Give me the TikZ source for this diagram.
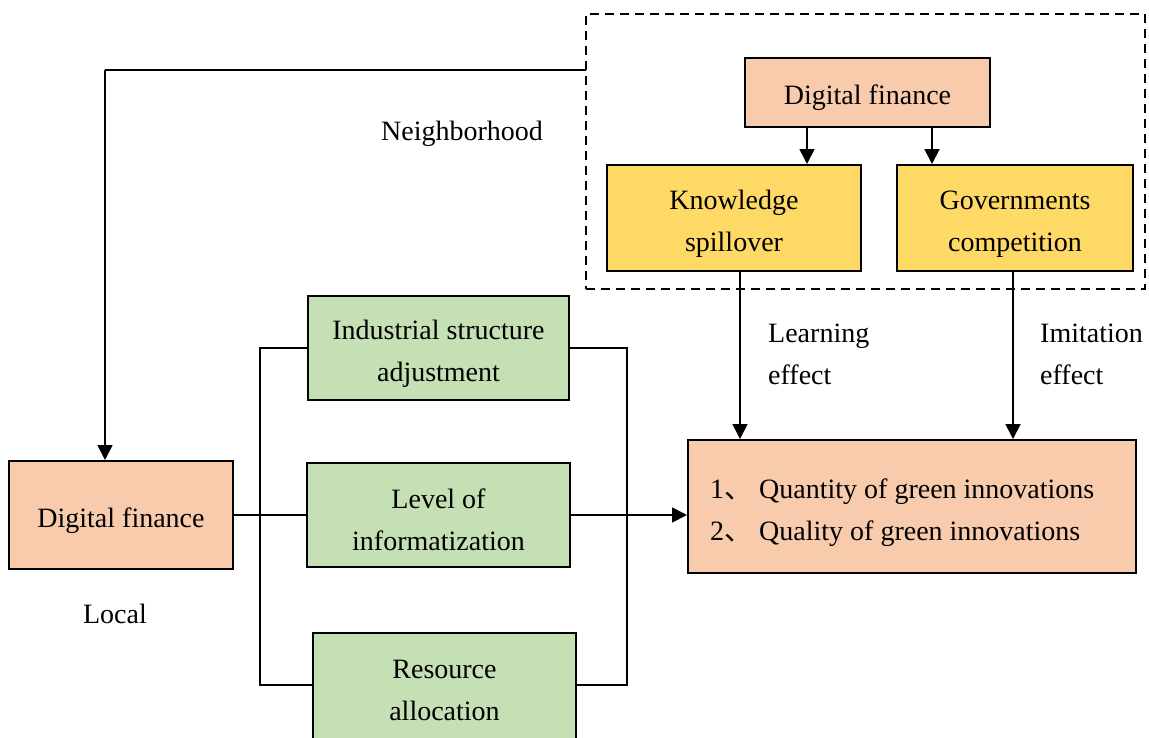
\documentclass[tikz,border=0pt]{standalone}
\usepackage{fontspec}
\setmainfont{Liberation Serif}
\newfontfamily\cjk{Noto Sans CJK SC}
\usetikzlibrary{arrows.meta}
\definecolor{peach}{HTML}{F8CBAD}
\definecolor{yel}{HTML}{FFD966}
\definecolor{grn}{HTML}{C5E0B4}
\begin{document}
\begin{tikzpicture}[x=1pt,y=-1pt,
  font=\fontsize{28}{42}\selectfont,
  box/.style={draw=black,line width=2pt,inner sep=0pt},
  pbox/.style={box,fill=peach},
  ybox/.style={box,fill=yel},
  gbox/.style={box,fill=grn},
  txt/.style={inner sep=0pt,align=center},
  conn/.style={line width=1.8pt},
  arr/.style={conn,-{Triangle[length=15pt,width=15pt]}},
  lbl/.style={inner sep=0pt,align=left}]
\useasboundingbox (0,0) rectangle (1149,737);
\fill[white] (0,0) rectangle (1149,737);
% dashed neighbourhood frame
\node[draw=black,line width=2pt,dash pattern=on 9pt off 6pt,minimum width=559pt,minimum height=275pt,inner sep=0pt] (nb) at (865.5,151.5) {};
% boxes
\node[pbox,minimum width=245pt,minimum height=69pt] (tdf) at (867.5,92.5) {};
\node[ybox,minimum width=254pt,minimum height=106pt] (ks) at (734,218) {};
\node[ybox,minimum width=236pt,minimum height=106pt] (gc) at (1015,218) {};
\node[pbox,minimum width=448pt,minimum height=133pt] (out) at (912,506.5) {};
\node[pbox,minimum width=224pt,minimum height=108pt] (ldf) at (121,515) {};
\node[gbox,minimum width=261pt,minimum height=104pt] (isa) at (438.5,348) {};
\node[gbox,minimum width=263pt,minimum height=104pt] (li) at (438.5,515) {};
\node[gbox,minimum width=263pt,minimum height=116pt] (ra) at (444.5,691) {};
% box texts
\node[txt] (tdft) at (867.5,97.5) {Digital finance};
\node[txt] (kst) at (734,224) {Knowledge\\spillover};
\node[txt] (gct) at (1015,224) {Governments\\competition};
\node[lbl,anchor=west] (outt) at (710,512.5) {1{\cjk 、} Quantity of green innovations\\2{\cjk 、} Quality of green innovations};
\node[txt] (ldft) at (121,521) {Digital finance};
\node[txt] (isat) at (438.5,354) {Industrial structure\\adjustment};
\node[txt] (lit) at (438.5,520) {Level of\\informatization};
\node[txt] (rat) at (444.5,690) {Resource\\allocation};
% labels
\node[lbl] (nbl) at (462,134) {Neighborhood};
\node[lbl] (loc) at (115,614) {Local};
\node[lbl,anchor=west] (le) at (768,354) {Learning\\effect};
\node[lbl,anchor=west] (ie) at (1040,354) {Imitation\\effect};
% connectors
\coordinate (turn) at (105,70);
\coordinate (nbw) at (586,70);
\draw[conn] (nbw) -- (turn);
\draw[arr] (turn) -- (turn |- ldf.north);
\draw[arr] (tdf.south -| 807,0) -- (ks.north -| 807,0);
\draw[arr] (tdf.south -| 932,0) -- (gc.north -| 932,0);
\draw[arr] (ks.south -| 740,0) -- (out.north -| 740,0);
\draw[arr] (gc.south -| 1013,0) -- (out.north -| 1013,0);
\coordinate (bl) at (260,0);
\coordinate (br) at (627,0);
\draw[conn] (isa.west) -- (isa.west -| bl) -- (bl |- 0,685) -- (ra.west |- 0,685);
\draw[conn] (isa.east) -- (isa.east -| br) -- (br |- 0,685) -- (ra.east |- 0,685);
\draw[conn] (ldf.east) -- (li.west);
\draw[arr] (li.east) -- (li.east -| out.west);
\end{tikzpicture}
\end{document}
